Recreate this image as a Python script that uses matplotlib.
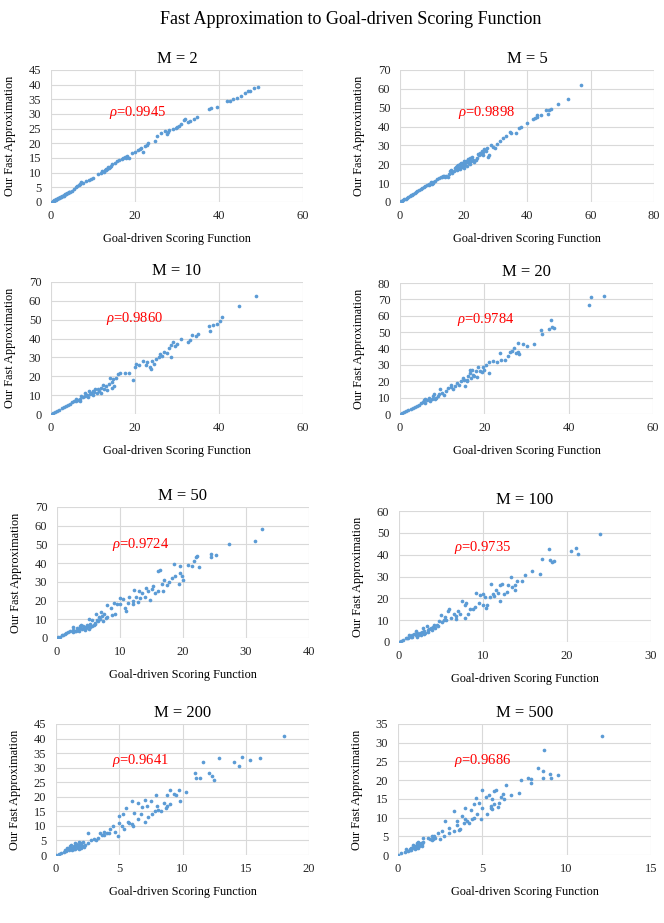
import numpy as np
import matplotlib
matplotlib.use("Agg")
import matplotlib.pyplot as plt

plt.rcParams['font.family'] = ['Liberation Serif', 'DejaVu Serif']
plt.rcParams['mathtext.fontset'] = 'custom'
plt.rcParams['mathtext.rm'] = 'Liberation Serif'
plt.rcParams['mathtext.it'] = 'Liberation Serif:italic'

# panel titles, correlations
m_values = [2, 5, 10, 20, 50, 100, 200, 500]
rho_values = ['0.9945', '0.9898', '0.9860', '0.9784', '0.9724', '0.9735', '0.9641', '0.9686']
x_max = [60, 80, 60, 60, 40, 30, 20, 15]
x_step = [20, 20, 20, 20, 10, 10, 5, 5]
y_max = [45, 70, 70, 80, 70, 60, 45, 35]
y_step = [5, 10, 10, 10, 10, 10, 5, 5]

# points (goal-driven, fast approx)
m2_pts = [(0.2, 0.1), (0.4, 0.3), (0.6, 0.4), (0.8, 0.6), (1.0, 0.7), (1.2, 0.9), (1.4, 1.0), (1.6, 1.2),
          (1.8, 1.3), (2.0, 1.5), (2.2, 1.6), (2.4, 1.8), (2.6, 1.9), (2.8, 2.1), (3.0, 2.2), (3.2, 2.4),
          (3.4, 2.6), (3.6, 2.8), (3.8, 3.0), (4.0, 3.1), (4.3, 3.3), (4.6, 3.5), (5.0, 3.9), (5.5, 4.4),
          (6.0, 5.0), (6.3, 5.3), (6.6, 5.7), (7.0, 6.2), (7.2, 6.7), (7.6, 6.5), (8.3, 7.2), (9.0, 7.4),
          (9.6, 7.8), (10.0, 8.2), (11.2, 9.4), (11.8, 9.8), (12.5, 10.3), (12.8, 11.0), (13.2, 11.3),
          (13.5, 12.0), (13.8, 11.6), (14.2, 12.3), (14.6, 12.8), (15.2, 13.4), (15.7, 13.9), (16.3, 14.2),
          (16.8, 14.6), (17.2, 15.0), (17.7, 15.3), (18.2, 15.8), (18.5, 15.1), (19.3, 16.6), (20.0, 17.2),
          (20.8, 17.8), (21.5, 18.5), (21.8, 17.2), (22.3, 19.0), (22.8, 19.5), (23.0, 20.2), (24.7, 20.8),
          (25.3, 22.5), (26.2, 23.6), (27.2, 24.1), (27.6, 23.2), (28.2, 24.6), (29.0, 24.9), (29.7, 25.3),
          (30.4, 26.0), (31.0, 26.7), (31.6, 27.8), (32.0, 28.3), (32.5, 27.4), (33.2, 27.6), (34.0, 28.3),
          (34.8, 28.9), (37.7, 31.6), (38.1, 32.0), (39.5, 32.3), (41.8, 34.3), (42.5, 34.5), (43.4, 35.1),
          (44.3, 35.3), (45.2, 36.2), (46.2, 37.1), (46.8, 37.8), (47.4, 38.0), (48.4, 38.7), (49.3, 39.2),
          (13.0, 10.8), (13.4, 11.1), (14.0, 11.9), (17.9, 14.9), (18.0, 15.5), (1.1, 0.8), (2.3, 1.7),
          (3.5, 2.7), (4.4, 3.4), (6.8, 6.0), (12.2, 10.6), (21.2, 18.2), (27.9, 24.0), (30.0, 25.6)]

m5_pts = [(0.3, 0.3), (0.6, 0.6), (1, 1), (1.4, 1.4), (1.8, 1.8), (2.2, 2.2), (2.6, 2.7), (3, 3.1),
          (3.4, 3.5), (3.8, 3.9), (4.2, 4.3), (4.6, 4.8), (5, 5.2), (5.5, 5.7), (6, 6.2), (6.5, 6.8),
          (7, 7.3), (7.5, 7.8), (8, 8.4), (8.5, 8.8), (9, 9.3), (9.5, 9.8), (9.8, 10.8), (10, 9.5),
          (10.3, 10.2), (11, 11.2), (11.5, 12), (12.2, 12.8), (12.8, 13.3), (13.5, 13.8), (14, 13.6),
          (14.5, 14), (15, 13.5), (15.3, 15), (15.8, 16.2), (16.2, 17), (16.5, 15.5), (17, 16.3),
          (17.3, 17.8), (17.6, 18.5), (17.9, 17.2), (18.2, 19.4), (18.5, 18), (18.8, 20), (19, 17.5),
          (19.3, 19), (19.6, 18.4), (19.9, 20.5), (20.2, 21.5), (20.5, 19.6), (20.8, 22), (21, 21),
          (21.3, 22.8), (21.6, 20.5), (22, 23.2), (22.3, 21.8), (22.6, 24), (23, 22.5), (23.4, 21),
          (23.8, 22.3), (24.2, 23.5), (24.8, 24.8), (25.2, 26), (25.5, 25.5), (25.8, 27.2), (26.2, 26.5),
          (26.6, 28), (27, 27.2), (27.3, 28.6), (27.6, 24), (28, 24.8), (28.7, 30.2), (29.4, 29),
          (29.8, 28.4), (30.5, 30.5), (31.5, 32.5), (32.5, 34), (33.5, 35), (34.5, 37), (35, 36.5),
          (36.5, 36.8), (37.5, 39), (38.2, 39.8), (40, 41.8), (41.8, 43.8), (42.5, 44.5), (43, 46),
          (43.2, 45.2), (44.5, 46.3), (46, 48.8), (46.5, 46.5), (47, 48.6), (47.5, 49.2), (49.8, 52.2),
          (52.8, 54.5), (57, 61.8),
          (18.0, 19.0), (18.4, 17.6), (19.1, 20.8), (19.8, 19.2), (20.0, 17.8), (20.6, 21.2), (21.2, 19.0),
          (21.8, 22.2), (22.2, 20.3), (13.2, 13.5), (14.3, 13.2), (16.0, 16.5), (24.5, 25.5), (26.0, 24.8),
          (10.5, 10.5), (9.2, 9.0)]

m10_pts = [(0.2, 0.2), (0.5, 0.6), (1, 1.1), (1.5, 1.8), (2, 2.3), (2.5, 3), (3, 3.5), (3.5, 4.2),
           (4, 5), (4.5, 5.5), (5, 6.5), (5.5, 7), (6, 6.8), (6, 8), (6.5, 7.5), (7, 8), (7.5, 9),
           (8, 9.5), (8, 11), (8.5, 10), (9, 12), (9.5, 11), (10, 10), (10, 12), (10.5, 13), (11, 11),
           (11.5, 12), (12, 14), (12.5, 13), (13, 15), (13.8, 16), (14.5, 14), (14.5, 17), (14.8, 18.5),
           (15.5, 19), (16, 21), (16.5, 22), (17.5, 21.5), (18.5, 22), (19.5, 18), (20, 25), (20.3, 26.5),
           (21, 26), (22, 28), (22.5, 26), (23.5, 25), (23.8, 24), (24, 28), (25, 29), (25.8, 30),
           (26, 32), (27, 33), (28, 35), (28.5, 30), (28.5, 36.5), (29, 38), (30, 37), (31, 40), (32.5, 38),
           (33, 39), (33.5, 42), (34.5, 41.5), (35, 42.5), (37.5, 46.5), (37.8, 44), (38.5, 47), (39.5, 47.5),
           (40.3, 49.5), (40.8, 51.5), (44.8, 57.1), (48.9, 62.7),
           (7.2, 9.5), (8.8, 9.2), (9.3, 10.5), (10.3, 11.5), (11.2, 13.5), (11.8, 11.3), (12.3, 15.5),
           (13.3, 12.5), (14, 19), (15, 15), (22.8, 27.5), (24.5, 26.5), (26.5, 30.5), (27.5, 32.5),
           (29.5, 36), (6.8, 7)]

m20_pts = [(0.2, 0.2), (0.5, 0.6), (1, 1.2), (1.5, 1.8), (2, 2.5), (2.5, 3.3), (3, 3.8), (3.5, 4.5),
           (4, 4.8), (4.5, 5.5), (5, 7), (5.5, 7.5), (6, 7), (6, 9), (6.5, 8.5), (7, 8), (7.5, 9),
           (8, 12), (8.5, 10), (9, 11), (9.5, 15.5), (10, 13), (11, 14), (11.5, 16), (12, 18), (12.5, 15),
           (13, 17), (14, 18), (14.5, 20), (15, 22), (15.5, 17), (16, 20), (16.5, 25), (16.8, 22), (17, 27),
           (17.5, 23), (18, 26), (18.5, 29), (19, 26), (19.5, 25.5), (20, 27), (20.5, 30), (21, 25),
           (21, 31.5), (22, 32.5), (23, 31.5), (23.8, 37.5), (24, 33), (25, 33), (25.5, 35.5), (26, 38),
           (26.5, 38.5), (27, 40.5), (27.5, 37), (28, 38), (28, 43.5), (28.2, 36.5), (29.2, 43), (30, 41.5),
           (31.8, 43), (33.5, 51.5), (33.7, 49), (35.3, 52), (35.7, 57.2), (36, 53), (36.5, 52.5),
           (44.9, 66.8), (45.2, 71.5), (48.3, 72.3),
           (5.8, 8.5), (6.8, 9.5), (7.8, 11), (8.2, 9), (9.2, 12.5), (10.5, 11.5), (12.2, 16.5), (13.5, 19),
           (15.2, 20.5), (15.8, 21), (16.2, 23), (17.2, 24), (16.5, 27), (18.2, 22.5), (19.8, 29)]

m50_pts = [(0, 0), (0.2, 0.3), (0.5, 0.8), (0.8, 1.5), (1.2, 2), (1.5, 2.5), (2, 3.5), (2.5, 3),
           (2.5, 4.5), (2.5, 6), (3, 4), (3.2, 5.5), (3.5, 4), (3.6, 6.5), (3.8, 7), (4, 5), (4.3, 5.5),
           (4.5, 6), (4.8, 7), (5, 5), (5, 10), (5.2, 6), (5.5, 9.5), (5.8, 7), (6, 8), (6.2, 12.8),
           (6.5, 9), (6.8, 10), (7, 14), (7.3, 9), (7.5, 13), (8, 11), (8, 17.5), (8.5, 16), (8.8, 12.5),
           (9, 18.5), (9.2, 13), (9.5, 18), (10, 18), (10, 21.5), (10.5, 21), (10.8, 16), (11, 14.5),
           (11.5, 22), (12, 18), (12, 20), (12.3, 25.5), (12.5, 22), (13, 25), (13.5, 24), (14, 22),
           (14.5, 25), (14.8, 20.5), (15, 26), (15.3, 28), (16, 25), (16, 36), (16.3, 36.5), (16.6, 29),
           (17, 31), (17.5, 28.5), (18.3, 32), (18.5, 39.5), (18.8, 33), (19.3, 29), (19.5, 35),
           (19.5, 38.5), (19.8, 33), (20, 31), (20.8, 39.2), (21.5, 38.5), (21.8, 41), (22, 43.5),
           (22.3, 43.8), (22.5, 38), (24.4, 43.5), (24.5, 45), (25.3, 44.5), (27.3, 50.4), (31.4, 52),
           (32.5, 58.4),
           (1.0, 1.8), (1.8, 3), (2.8, 3.5), (3.3, 4.5), (3.7, 5.5), (4.1, 6.2), (4.4, 4.5), (4.6, 5.2),
           (4.9, 6.2), (5.3, 7.5), (5.6, 6.5), (6.1, 7.5), (6.3, 9.5), (6.6, 11), (7.2, 11.5), (7.7, 10.5),
           (11.2, 18.5), (12.8, 19), (13.2, 21.5), (14.2, 26.5), (15.5, 24), (16.8, 25), (17.8, 30)]

m100_pts = [(0, 0), (0.2, 0.5), (0.5, 1), (0.8, 2), (1, 2), (1.2, 3), (1.5, 2.5), (1.8, 3.5), (2, 3),
            (2, 5), (2.3, 3), (2.5, 4), (2.8, 6.5), (3, 3.5), (3, 5), (3.3, 7.5), (3.5, 5.5), (3.8, 6.5),
            (4, 7), (4.2, 8), (4.5, 8), (4.8, 9.5), (5, 12.5), (5.3, 10), (5.5, 11.5), (5.8, 14), (6, 15),
            (6.5, 13), (6.8, 10.5), (6.8, 12), (7, 14), (7.3, 13), (7.5, 19), (7.8, 17), (7.9, 11),
            (8.2, 13), (8.5, 15), (8.8, 15), (9, 16), (9.2, 22.5), (9.5, 18), (9.7, 21.5), (10, 17),
            (10, 22), (10.3, 15.5), (10.5, 17), (10.8, 20.5), (11, 26.5), (11.2, 22), (11.5, 24), (12, 19),
            (12, 26), (12.3, 26.5), (12.8, 23), (13, 26), (13.3, 30), (13.5, 25), (13.8, 26), (14, 28),
            (14.7, 28), (15, 30.5), (15.8, 32.5), (16.8, 31), (17, 38), (17.8, 42.5), (18, 37.5),
            (18.2, 36.8), (18.4, 37.2), (20.5, 41.5), (21.06, 43), (21.3, 40.5), (23.9, 49.6),
            (1.1, 1.8), (1.4, 2.2), (1.6, 3), (2.1, 2.5), (2.2, 4), (2.6, 3.2), (2.7, 4.8), (3.1, 4.2),
            (3.4, 4.5), (3.6, 6), (3.9, 5.5), (4.3, 6.5), (4.6, 7.5), (5.1, 9), (5.6, 10), (6.2, 11),
            (8, 18), (10.2, 20.5), (11.3, 21), (11.8, 22.5), (12.5, 22), (13.8, 24)]

m200_pts = [(0, 0), (0.2, 0.4), (0.4, 0.8), (0.6, 1.2), (0.8, 1.5), (0.9, 2.5), (1.0, 1.8), (1.1, 3),
            (1.2, 2), (1.3, 2.5), (1.4, 3.2), (1.5, 2), (1.5, 4), (1.6, 3), (1.7, 2.5), (1.8, 4.5),
            (1.9, 3.5), (2.0, 2.5), (2.0, 4), (2.1, 3), (2.3, 3.5), (2.5, 4), (2.5, 7.5), (2.8, 5),
            (3.0, 5.5), (3.2, 5), (3.3, 6), (3.5, 7.5), (3.6, 7), (3.8, 8), (4.0, 7.5), (4.3, 9), (4.5, 10),
            (4.7, 8), (4.9, 6.5), (5.0, 11), (5.0, 13.5), (5.3, 14), (5.4, 9), (5.5, 16), (5.8, 11),
            (6.0, 10.5), (6.0, 18.5), (6.2, 14.5), (6.5, 12.5), (6.5, 18), (6.8, 16.5), (7.0, 11.5),
            (7.0, 19), (7.3, 13), (7.5, 18.5), (7.8, 15), (7.9, 20.5), (8, 17), (8.3, 15), (8.5, 18),
            (8.7, 16), (8.8, 20.5), (9.0, 17.5), (9.0, 22.3), (9.3, 21), (9.5, 20.5), (9.7, 22.3),
            (9.8, 18.5), (10.3, 21.5), (11.0, 28.2), (11.1, 26.5), (11.4, 26.3), (11.6, 32), (12.1, 28.2),
            (12.3, 27.3), (12.5, 25.8), (12.9, 33.2), (14.1, 32), (14.5, 30.5), (14.7, 33.5), (15.3, 32.8),
            (16.1, 33.2), (18.05, 41),
            (0.7, 1.8), (1.0, 2.3), (1.2, 3.3), (1.3, 1.8), (1.4, 2.2), (1.5, 3), (1.6, 3.8), (1.7, 3.5),
            (1.8, 2.2), (1.8, 3.2), (1.9, 2.8), (2.0, 3.3), (2.1, 4.3), (2.2, 2.8), (3.8, 7), (4.2, 7.5),
            (5.2, 10), (5.7, 11.5), (6.1, 10), (6.7, 14), (7.2, 17), (7.6, 14), (8.1, 15.5), (8.8, 17)]

m500_pts = [(0, 0), (0.2, 0.5), (0.4, 0.8), (0.5, 1.5), (0.6, 1.2), (0.7, 1.7), (0.8, 1.3), (0.8, 2),
            (0.9, 2.8), (1.0, 1.5), (1.0, 2.5), (1.1, 3.2), (1.2, 2), (1.3, 3), (1.4, 2.5), (1.5, 3.5),
            (1.5, 4.5), (1.8, 4.5), (2.0, 4), (2.0, 5), (2.2, 4.5), (2.4, 6), (2.5, 4.2), (2.6, 6.5),
            (2.7, 5), (2.8, 9.2), (3.0, 6), (3.0, 7.3), (3.3, 6.5), (3.3, 11.7), (3.5, 8), (3.5, 9.2),
            (3.7, 7), (3.8, 10.5), (4.0, 9.5), (4.0, 12.5), (4.2, 8.5), (4.3, 12), (4.4, 9.5), (4.5, 13.5),
            (4.6, 15.2), (4.7, 11), (4.8, 14), (4.9, 9.5), (5.0, 12.5), (5.0, 17.3), (5.2, 15.5), (5.3, 11),
            (5.4, 16), (5.5, 12.5), (5.5, 13), (5.6, 15), (5.7, 17.2), (5.8, 17.5), (6.0, 14), (6.2, 16.3),
            (6.3, 15), (6.4, 18.7), (6.7, 16.1), (7.2, 16.6), (7.3, 20), (7.7, 20.6), (7.9, 19.3),
            (7.9, 20.2), (8.3, 23.2), (8.6, 22.5), (8.6, 20.7), (8.67, 28), (9.0, 21.6), (9.1, 20.6),
            (9.5, 21.3), (12.08, 31.8),
            (0.7, 1.3), (0.85, 1.8), (0.95, 2.2), (1.05, 1.9), (1.15, 2.6), (1.25, 2.3), (1.3, 2.8),
            (1.35, 3.3), (1.45, 2.9), (1.2, 3.5), (1.1, 2.1), (2.1, 4.3), (2.15, 5.2), (1.9, 4.2),
            (3.6, 6.8), (3.9, 8.5), (4.5, 10), (5.6, 12.2), (5.7, 13.5), (5.9, 12.8), (6.1, 15.5), (4.1, 9)]

all_pts = [m2_pts, m5_pts, m10_pts, m20_pts, m50_pts, m100_pts, m200_pts, m500_pts]

# axes boxes in pixels: left, top, right, bottom
W, H = 664, 923
boxes = [(51, 70, 303, 202), (400, 70, 654, 202),
         (51, 282, 303, 414), (400, 283, 653, 414),
         (57, 507, 309, 638), (399, 511, 651, 642),
         (56, 724, 309, 855), (398, 724, 651, 855)]
rho_pos = [(0.23, 0.68), (0.23, 0.68), (0.22, 0.72), (0.225, 0.72),
           (0.22, 0.71), (0.22, 0.725), (0.22, 0.72), (0.22, 0.72)]

dot_color = '#5B9BD5'
grid_color = '#D9D9D9'

fig = plt.figure(figsize=(W / 100, H / 100), dpi=100)
fig.text(351 / W, 1 - 20 / H, 'Fast Approximation to Goal-driven Scoring Function',
         ha='center', va='center', fontsize=13)

for i, pts in enumerate(all_pts):
    l, t, r, b = boxes[i]
    ax = fig.add_axes([l / W, 1 - b / H, (r - l) / W, (b - t) / H])
    arr = np.array(pts)
    ax.scatter(arr[:, 0], arr[:, 1], s=7, color=dot_color, linewidths=0, zorder=3)
    ax.set_xlim(0, x_max[i])
    ax.set_ylim(0, y_max[i])
    ax.set_xticks(np.arange(0, x_max[i] + 1, x_step[i]))
    ax.set_yticks(np.arange(0, y_max[i] + 1, y_step[i]))
    ax.grid(True, color=grid_color, linewidth=0.8)
    ax.set_axisbelow(True)
    for sp in ax.spines.values():
        sp.set_visible(False)
    ax.tick_params(length=0, labelsize=9, colors='#262626')
    ax.tick_params(axis='y', pad=7)
    ax.tick_params(axis='x', pad=6)
    ax.set_title(f'M = {m_values[i]}', fontsize=12, pad=5)
    ax.set_xlabel('Goal-driven Scoring Function', fontsize=8.8)
    ax.set_ylabel('Our Fast Approximation', fontsize=8.8)
    ax.xaxis.set_label_coords(0.5, -31 / (b - t))
    ax.yaxis.set_label_coords(-0.138, 0.5)
    ax.text(rho_pos[i][0], rho_pos[i][1], r'$\rho$=' + rho_values[i], transform=ax.transAxes,
            color='red', fontsize=10.5, va='center', ha='left')

plt.savefig('out.png', dpi=100)
plt.close()
